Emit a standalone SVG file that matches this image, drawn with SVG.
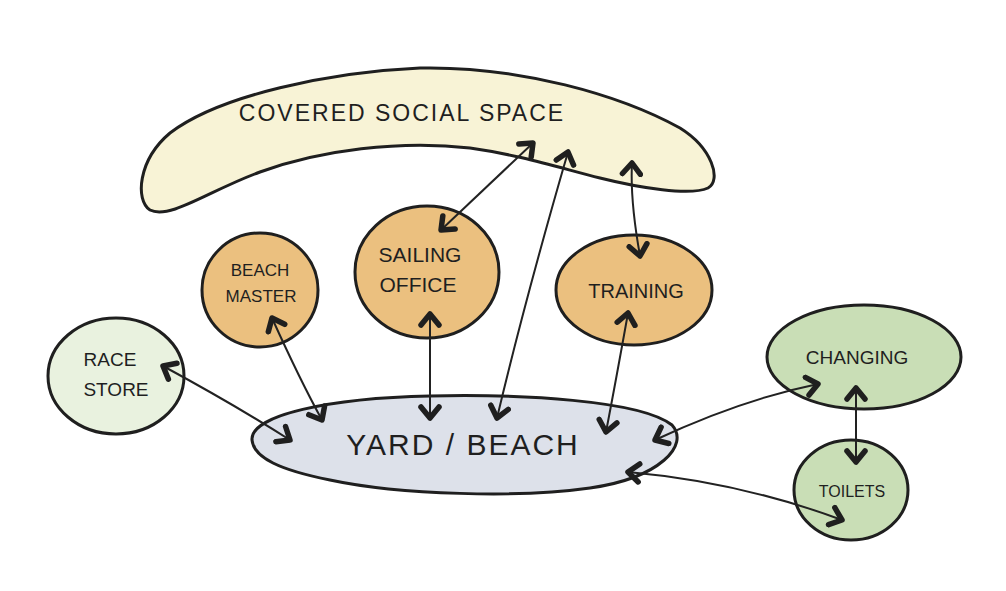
<svg xmlns="http://www.w3.org/2000/svg" width="1006" height="591" viewBox="0 0 1006 591">
<style>
.node{stroke:#1f1f1f;stroke-width:3;stroke-linejoin:round}
.lbl{font-family:"Liberation Sans","DejaVu Sans",sans-serif;fill:#1f1f1f;text-anchor:middle}
.con{fill:none;stroke:#222;stroke-width:2;marker-start:url(#ah);marker-end:url(#ah)}
</style>
<defs>
<marker id="ah" viewBox="-14 -12 18 24" markerWidth="18" markerHeight="24" refX="0" refY="0" orient="auto-start-reverse" markerUnits="userSpaceOnUse">
<path d="M -11 -9 L 0 0 L -11 9" fill="none" stroke="#1f1f1f" stroke-width="5.5" stroke-linecap="round" stroke-linejoin="round"/>
</marker>
</defs>
<rect width="1006" height="591" fill="#fff"/>
<g id="covered-social-space">
<path class="node" fill="#f8f3d6" d="M 150 210 C 135 200 138 160 170 133 C 220 95 330 72 420 68 C 520 66 620 95 680 128 C 712 148 722 180 708 188 C 690 196 640 188 600 178 C 560 168 520 155 470 148 C 400 140 320 150 260 172 C 210 190 170 220 150 210 Z"/>
<text class="lbl" x="402" y="121" font-size="23" letter-spacing="2">COVERED SOCIAL SPACE</text>
</g>
<g id="beach-master">
<ellipse class="node" fill="#ebc07f" cx="260" cy="290" rx="58" ry="57"/>
<text class="lbl" x="260" y="276" font-size="17">BEACH</text>
<text class="lbl" x="261" y="302" font-size="17">MASTER</text>
</g>
<g id="sailing-office">
<ellipse class="node" fill="#ebc07f" cx="427" cy="272" rx="72" ry="66"/>
<text class="lbl" x="420" y="262" font-size="21">SAILING</text>
<text class="lbl" x="418" y="292" font-size="21">OFFICE</text>
</g>
<g id="training">
<ellipse class="node" fill="#ebc07f" cx="634" cy="290" rx="78" ry="55"/>
<text class="lbl" x="636" y="298" font-size="20">TRAINING</text>
</g>
<g id="race-store">
<ellipse class="node" fill="#e9f2df" cx="116" cy="376" rx="68" ry="58"/>
<text class="lbl" x="110" y="366" font-size="19">RACE</text>
<text class="lbl" x="116" y="396" font-size="19">STORE</text>
</g>
<g id="yard-beach">
<path class="node" fill="#dde1ea" d="M 252 440 C 250 415 330 398 430 396 C 520 394 640 400 672 425 C 690 445 660 478 590 488 C 520 498 400 495 330 480 C 280 470 254 458 252 440 Z"/>
<text class="lbl" x="463" y="455" font-size="30" letter-spacing="2">YARD / BEACH</text>
</g>
<g id="changing">
<ellipse class="node" fill="#c9deb6" cx="864" cy="357" rx="97" ry="52"/>
<text class="lbl" x="857" y="364" font-size="19">CHANGING</text>
</g>
<g id="toilets">
<ellipse class="node" fill="#c9deb6" cx="851" cy="490" rx="57" ry="50"/>
<text class="lbl" x="852" y="497" font-size="16">TOILETS</text>
</g>
<g id="connectors">
<path class="con" d="M 441 230 L 533 143"/>
<path class="con" d="M 497 418 Q 525 300 568 152"/>
<path class="con" d="M 640 256 Q 630 200 632 163"/>
<path class="con" d="M 272 318 Q 300 380 322 420"/>
<path class="con" d="M 430 314 L 430 418"/>
<path class="con" d="M 628 313 Q 616 380 606 432"/>
<path class="con" d="M 163 366 Q 235 405 290 440"/>
<path class="con" d="M 655 440 Q 740 400 818 384"/>
<path class="con" d="M 856 388 L 856 462"/>
<path class="con" d="M 628 472 Q 740 482 842 520"/>
</g>
</svg>
